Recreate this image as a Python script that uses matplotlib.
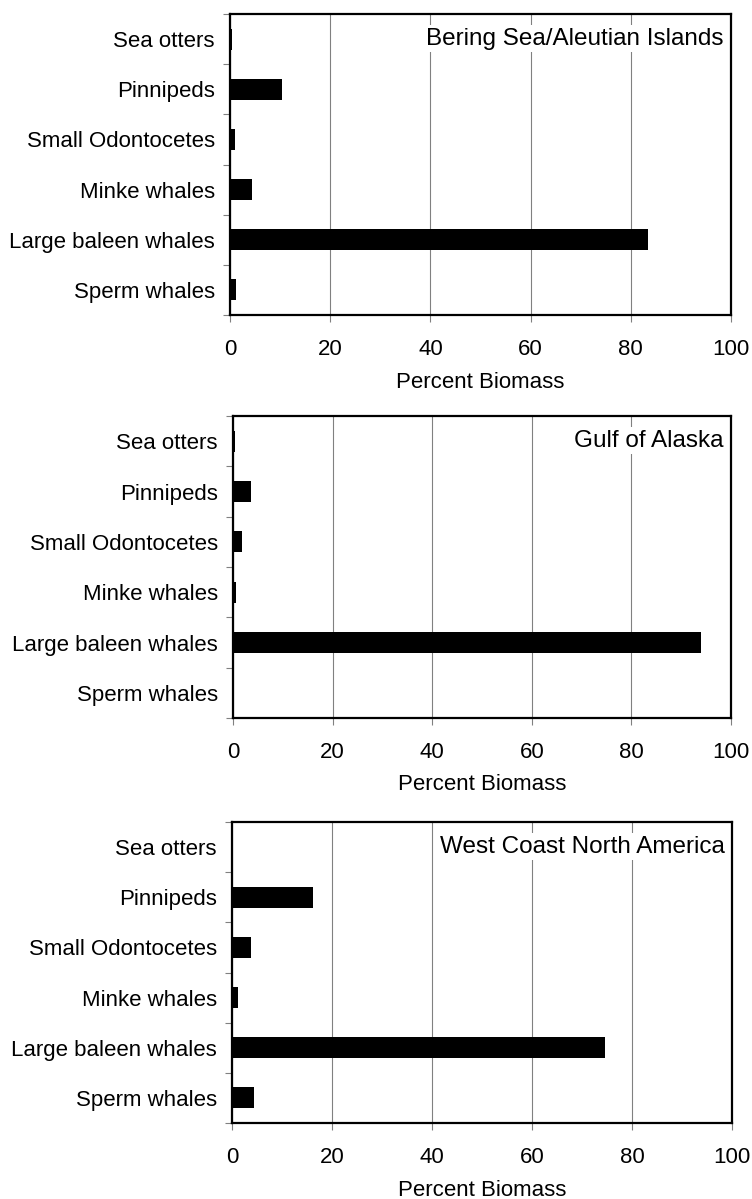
import matplotlib
matplotlib.use("Agg")
import matplotlib.pyplot as plt
import numpy as np

plt.rcParams['font.family'] = ['Liberation Sans', 'DejaVu Sans']

categories = ["Sea otters", "Pinnipeds", "Small Odontocetes",
              "Minke whales", "Large baleen whales", "Sperm whales"]

regions = ["Bering Sea/Aleutian Islands", "Gulf of Alaska", "West Coast North America"]

bering_values = [0.3, 10.3, 0.9, 4.3, 83.5, 1.1]
gulf_values = [0.4, 3.7, 1.8, 0.6, 93.9, 0.0]
westcoast_values = [0.0, 16.2, 3.7, 1.2, 74.6, 4.4]

xticks = [0, 20, 40, 60, 80, 100]

W, H = 752, 1199
fig = plt.figure(figsize=(W / 100, H / 100), dpi=100)

# axes boxes in pixels: left, top, right, bottom
boxes = [(230, 14, 731, 315), (233, 416, 731, 718), (232, 822, 732, 1123)]

series = [bering_values, gulf_values, westcoast_values]

for (l, t, r, b), region, vals in zip(boxes, regions, series):
    ax = fig.add_axes([l / W, 1 - b / H, (r - l) / W, (b - t) / H])
    y = np.arange(len(categories))
    ax.barh(y, vals, height=0.42, color="black", edgecolor="none", zorder=3)
    ax.set_xlim(0, 100)
    ax.set_ylim(len(categories) - 0.5, -0.5)

    ax.set_xticks(xticks)
    ax.set_xticklabels([str(v) for v in xticks])
    ax.grid(axis="x", color="#808080", linewidth=0.8, zorder=1)
    ax.grid(axis="y", visible=False)

    ax.set_yticks(y)
    ax.set_yticklabels(categories)
    ax.set_yticks(np.arange(-0.5, len(categories)), minor=True)
    ax.tick_params(axis="y", which="major", length=0, pad=11, labelsize=16)
    ax.tick_params(axis="y", which="minor", length=5, width=0.8, color="#808080")
    ax.tick_params(axis="x", which="major", length=5, width=0.8, color="#808080",
                   pad=12, labelsize=16)

    for sp in ax.spines.values():
        sp.set_linewidth(1.6)
        sp.set_color("black")
        sp.set_zorder(4)

    ax.text(0.985, 0.955, region, transform=ax.transAxes, ha="right", va="top",
            fontsize=17.5, zorder=5,
            bbox=dict(facecolor="white", edgecolor="none", pad=2))

    ax.text(0.5, -67 / (b - t), "Percent Biomass", transform=ax.transAxes,
            ha="center", va="center", fontsize=16)

fig.savefig("out.png", dpi=100)
